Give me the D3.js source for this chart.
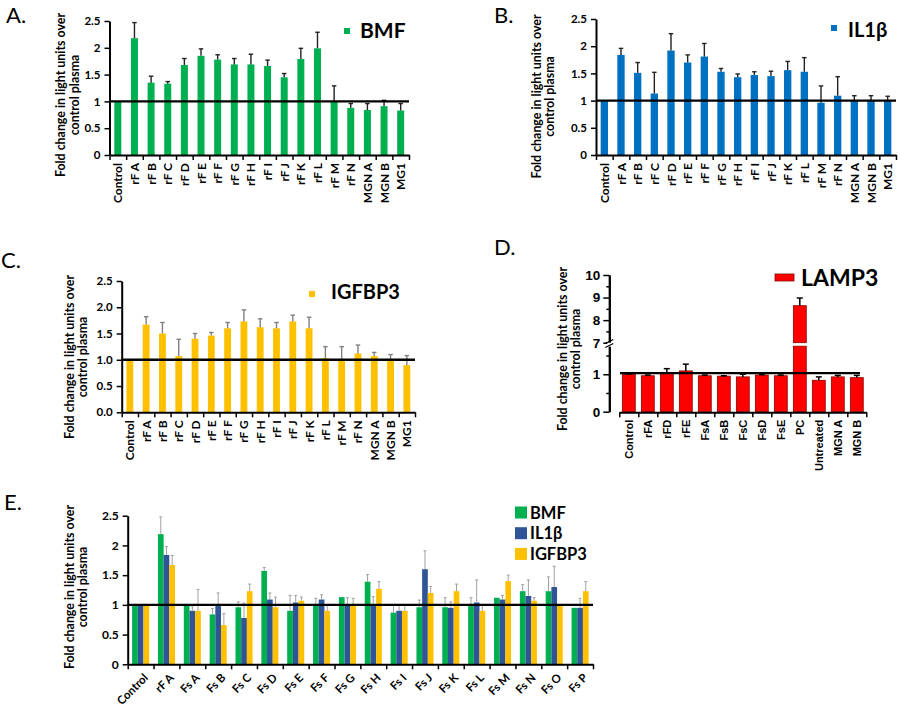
<!DOCTYPE html>
<html><head><meta charset="utf-8">
<script src="https://cdn.jsdelivr.net/npm/d3@7"></script>
<style>body{margin:0;background:#fff}svg{display:block}</style>
</head><body>
<svg id="c" width="900" height="708"></svg>
<script>
// ---------- DATA ----------
const catsABC = ["Control","rF A","rF B","rF C","rF D","rF E","rF F","rF G","rF H","rF I","rF J","rF K","rF L","rF M","rF N","MGN A","MGN B","MG1"];
const yTicksABC = [0, 0.5, 1, 1.5, 2, 2.5];

const bmfValues = [1.00, 2.18, 1.35, 1.33, 1.68, 1.85, 1.78, 1.69, 1.69, 1.66, 1.45, 1.79, 1.99, 1.00, 0.88, 0.84, 0.91, 0.83];
const bmfErrors = [0, 0.29, 0.12, 0.04, 0.12, 0.13, 0.09, 0.11, 0.19, 0.11, 0.07, 0.20, 0.30, 0.29, 0.08, 0.12, 0.11, 0.13];

const il1bValues = [1.00, 1.84, 1.51, 1.13, 1.92, 1.70, 1.81, 1.53, 1.43, 1.47, 1.45, 1.56, 1.53, 0.96, 1.09, 1.00, 1.00, 1.00];
const il1bErrors = [0, 0.12, 0.19, 0.39, 0.31, 0.14, 0.24, 0.06, 0.06, 0.06, 0.09, 0.16, 0.26, 0.31, 0.35, 0.09, 0.09, 0.08];

const igfbp3Values = [1.00, 1.67, 1.50, 1.07, 1.40, 1.46, 1.60, 1.73, 1.62, 1.60, 1.73, 1.60, 1.03, 1.00, 1.12, 1.07, 1.00, 0.90];
const igfbp3Errors = [0, 0.15, 0.21, 0.32, 0.10, 0.06, 0.11, 0.22, 0.16, 0.11, 0.12, 0.21, 0.22, 0.25, 0.16, 0.07, 0.10, 0.18];

const catsD = ["Control","rFA","rFD","rFE","FsA","FsB","FsC","FsD","FsE","PC","Untreated","MGN A","MGN B"];
const lamp3Values = [1.00, 0.96, 1.02, 1.09, 0.96, 0.95, 0.93, 0.98, 0.96, 8.64, 0.84, 0.93, 0.91];
const lamp3Errors = [0.01, 0.02, 0.13, 0.18, 0.02, 0.01, 0.07, 0.01, 0.02, 0.34, 0.09, 0.04, 0.06];
const yTicksDLow = [0, 1];
const yMinorDLow = [0.5, 1.5];
const yTicksDHigh = [7, 8, 9, 10];
const yMinorDHigh = [7.5, 8.5, 9.5];

const catsE = ["Control","rF A","Fs A","Fs B","Fs C","Fs D","Fs E","Fs F","Fs G","Fs H","Fs I","Fs J","Fs K","Fs L","Fs M","Fs N","Fs O","Fs P"];
const seriesE = ["BMF","IL1β","IGFBP3"];
const eBmfValues = [1.00, 2.19, 1.00, 0.84, 0.96, 1.57, 0.90, 1.00, 1.13, 1.39, 0.87, 0.96, 0.96, 1.00, 1.12, 1.23, 1.23, 0.95];
const eBmfErrors = [0, 0.29, 0, 0.10, 0.09, 0.06, 0.26, 0.11, 0, 0.12, 0.13, 0.12, 0.16, 0.12, 0, 0.11, 0.24, 0];
const eIl1bValues = [1.00, 1.84, 0.90, 1.00, 0.78, 1.09, 1.04, 1.09, 1.00, 1.00, 0.90, 1.60, 0.95, 1.04, 1.09, 1.15, 1.30, 0.95];
const eIl1bErrors = [0, 0.14, 0.08, 0.20, 0.25, 0.11, 0.12, 0.08, 0.12, 0.14, 0.10, 0.31, 0.10, 0.38, 0.07, 0.27, 0.35, 0.16];
const eIgfValues = [1.00, 1.67, 0.90, 0.66, 1.23, 0.96, 1.07, 0.90, 1.00, 1.27, 0.90, 1.20, 1.23, 0.90, 1.40, 1.07, 1.00, 1.23];
const eIgfErrors = [0, 0.16, 0.36, 0.19, 0.12, 0.17, 0.06, 0.10, 0.11, 0.12, 0.10, 0.11, 0.12, 0.10, 0.10, 0.05, 0, 0.16];

const yTitle = ["Fold change in light units over", "control plasma"];

// ---------- DRAW ----------
const svg = d3.select("#c");
const F = "Lato, 'Open Sans', sans-serif";
const FA = "'Liberation Sans', Arial, sans-serif";

function styleAxis(g, font, size, tickW) {
  g.select(".domain").attr("stroke", "#000").attr("stroke-width", 2);
  g.selectAll(".tick line").attr("stroke", "#000").attr("stroke-width", tickW || 1.5);
  g.selectAll(".tick text").attr("font-family", font).attr("font-weight", "bold")
    .attr("font-size", size).attr("fill", "#000");
}

function letter(x, y, t) {
  svg.append("text").attr("x", x).attr("y", y).text(t)
    .attr("font-family", F).attr("font-size", 22).attr("fill", "#000");
}

function title(cy, x1, x2) {
  [x1, x2].forEach((xx, i) => {
    svg.append("text").attr("transform", `translate(${xx},${cy}) rotate(-90)`)
      .attr("text-anchor", "middle").attr("dominant-baseline", "central")
      .attr("font-family", F).attr("font-weight", "bold").attr("font-size", 12.4)
      .text(yTitle[i]);
  });
}

function errorBars(g, data, errColor, capW, sw) {
  const eg = g.append("g");
  data.filter(d => d.e > 0).forEach(d => {
    eg.append("line").attr("x1", d.cx).attr("x2", d.cx).attr("y1", d.y1).attr("y2", d.y2)
      .attr("stroke", errColor).attr("stroke-width", sw);
    eg.append("line").attr("x1", d.cx - capW / 2).attr("x2", d.cx + capW / 2).attr("y1", d.y2).attr("y2", d.y2)
      .attr("stroke", errColor).attr("stroke-width", sw);
  });
}

function simplePanel(o) {
  const g = svg.append("g");
  const n = o.cats.length;
  const x = d3.scaleBand().domain(o.cats).range([o.x0, o.x1]).paddingInner(o.pad).paddingOuter(o.pad / 2);
  const y = d3.scaleLinear().domain([0, 2.5]).range([o.y0, o.yTop]);
  const bx = d3.scaleLinear().domain([0, n]).range([o.x0, o.x1]);

  g.selectAll("rect").data(o.vals).join("rect")
    .attr("x", (d, i) => x(o.cats[i])).attr("y", d => y(d))
    .attr("width", x.bandwidth()).attr("height", d => o.y0 - y(d)).attr("fill", o.color);

  errorBars(g, o.vals.map((v, i) => ({ cx: x(o.cats[i]) + x.bandwidth() / 2, y1: y(v), y2: y(v + o.errs[i]), e: o.errs[i] })),
    o.errColor, 4.5, 1.4);

  g.append("g").attr("transform", `translate(${o.x0},0)`)
    .call(d3.axisLeft(y).tickValues(yTicksABC).tickSize(5).tickSizeOuter(0).tickPadding(4).tickFormat(o.fmt))
    .call(a => styleAxis(a, F, 11.5));
  g.append("g").attr("transform", `translate(0,${o.y0})`)
    .call(d3.axisBottom(bx).tickValues(d3.range(n + 1)).tickSize(5).tickSizeOuter(0).tickFormat(""))
    .call(a => styleAxis(a, F, 10));

  g.selectAll("text.cat").data(o.cats).join("text").attr("class", "cat")
    .attr("transform", d => `translate(${x(d) + x.bandwidth() / 2},${o.y0 + 8}) rotate(-90)`)
    .attr("text-anchor", "end").attr("dominant-baseline", "central")
    .attr("font-family", F).attr("font-weight", "bold").attr("font-size", 12).text(d => d);

  g.append("line").attr("x1", o.x0).attr("x2", o.x1).attr("y1", y(1)).attr("y2", y(1))
    .attr("stroke", "#000").attr("stroke-width", 2.4);

  g.append("rect").attr("x", o.lg[0]).attr("y", o.lg[1]).attr("width", 6).attr("height", 6).attr("fill", o.color);
  g.append("text").attr("x", o.lg[2]).attr("y", o.lg[3]).text(o.name)
    .attr("font-family", F).attr("font-weight", "bold").attr("font-size", o.lg[4]);
}

// Panel A
letter(6, 23, "A.");
title(95, 60, 74);
simplePanel({ cats: catsABC, vals: bmfValues, errs: bmfErrors, x0: 109.5, x1: 409, y0: 155, yTop: 21,
  pad: 0.58, color: "#00b050", errColor: "#222", fmt: d3.format("~g"), name: "BMF", lg: [344, 28, 360, 37.5, 21] });

// Panel B
letter(494, 23, "B.");
title(96.5, 536, 549);
simplePanel({ cats: catsABC, vals: il1bValues, errs: il1bErrors, x0: 596, x1: 896, y0: 155, yTop: 19,
  pad: 0.56, color: "#0070c0", errColor: "#222", fmt: d3.format("~g"), name: "IL1β", lg: [831, 25, 848, 37.3, 20] });

// Panel C
letter(1, 268, "C.");
title(357, 69.5, 82.5);
simplePanel({ cats: catsABC, vals: igfbp3Values, errs: igfbp3Errors, x0: 121.7, x1: 415, y0: 412.3, yTop: 281,
  pad: 0.58, color: "#ffc000", errColor: "#808080", fmt: d3.format(".1f"), name: "IGFBP3", lg: [309, 291, 331, 298.5, 20] });

// Panel D
(function () {
  letter(494, 255, "D.");
  title(349, 562, 575);
  const g = svg.append("g");
  const axX = 609.3, y0 = 411.7;
  const yLow = d3.scaleLinear().domain([0, 1.75]).range([y0, 346.2]);
  const yHigh = d3.scaleLinear().domain([7, 10]).range([342.7, 275]);
  const x = d3.scaleBand().domain(catsD).range([619.3, 866.3]).paddingInner(0.32).paddingOuter(0.16);
  const bx = d3.scaleLinear().domain([0, catsD.length]).range([619.3, 866.3]);
  const fmtD = d3.format("d");

  lamp3Values.forEach((v, i) => {
    const bxp = x(catsD[i]);
    if (v <= 1.75) {
      g.append("rect").attr("x", bxp).attr("y", yLow(v)).attr("width", x.bandwidth()).attr("height", y0 - yLow(v))
        .attr("fill", "#ff0000").attr("stroke", "#8b0000").attr("stroke-width", 0.8);
    } else {
      g.append("rect").attr("x", bxp).attr("y", yLow(1.75)).attr("width", x.bandwidth()).attr("height", y0 - yLow(1.75))
        .attr("fill", "#ff0000").attr("stroke", "#8b0000").attr("stroke-width", 0.8);
      g.append("rect").attr("x", bxp).attr("y", yHigh(v)).attr("width", x.bandwidth()).attr("height", yHigh(7) - yHigh(v))
        .attr("fill", "#ff0000").attr("stroke", "#8b0000").attr("stroke-width", 0.8);
    }
  });
  const ys = v => v > 7 ? yHigh(v) : yLow(v);
  errorBars(g, lamp3Values.map((v, i) => ({ cx: x(catsD[i]) + x.bandwidth() / 2, y1: ys(v), y2: ys(v + lamp3Errors[i]), e: lamp3Errors[i] })),
    "#000", 6, 1.5);

  g.append("g").attr("transform", `translate(${axX},0)`)
    .call(d3.axisLeft(yLow).tickValues(yTicksDLow).tickSize(6).tickSizeOuter(0).tickPadding(3).tickFormat(fmtD))
    .call(a => styleAxis(a, FA, 13.5));
  g.append("g").attr("transform", `translate(${axX},0)`)
    .call(d3.axisLeft(yLow).tickValues(yMinorDLow).tickSize(3).tickSizeOuter(0).tickFormat(""))
    .call(a => styleAxis(a, FA, 13));
  g.append("g").attr("transform", `translate(${axX},0)`)
    .call(d3.axisLeft(yHigh).tickValues(yTicksDHigh).tickSize(6).tickSizeOuter(0).tickPadding(3).tickFormat(fmtD))
    .call(a => styleAxis(a, FA, 13.5));
  g.append("g").attr("transform", `translate(${axX},0)`)
    .call(d3.axisLeft(yHigh).tickValues(yMinorDHigh).tickSize(3).tickSizeOuter(0).tickFormat(""))
    .call(a => styleAxis(a, FA, 13));
  // break marks
  g.append("rect").attr("x", axX - 2).attr("y", 342.7).attr("width", 4).attr("height", 3.5).attr("fill", "#fff");
  [341.5, 345.5].forEach(yy => {
    g.append("line").attr("x1", axX - 4).attr("x2", axX + 4).attr("y1", yy + 2).attr("y2", yy - 2)
      .attr("stroke", "#000").attr("stroke-width", 1.3);
  });

  g.append("g").attr("transform", `translate(0,${y0 + 0.5})`)
    .call(d3.axisBottom(bx).tickValues(d3.range(catsD.length + 1)).tickSize(5).tickSizeOuter(0).tickFormat(""))
    .call(a => styleAxis(a, FA, 10));

  g.selectAll("text.cat").data(catsD).join("text").attr("class", "cat")
    .attr("transform", d => `translate(${x(d) + x.bandwidth() / 2},${y0 + 8}) rotate(-90)`)
    .attr("text-anchor", "end").attr("dominant-baseline", "central")
    .attr("font-family", FA).attr("font-weight", "bold").attr("font-size", 11).text(d => d);

  g.append("line").attr("x1", 620).attr("x2", 860).attr("y1", yLow(1.03)).attr("y2", yLow(1.03))
    .attr("stroke", "#000").attr("stroke-width", 2.4);

  g.append("rect").attr("x", 775).attr("y", 274).attr("width", 19).attr("height", 7)
    .attr("fill", "#ff0000").attr("stroke", "#8b0000").attr("stroke-width", 0.8);
  g.append("text").attr("x", 801).attr("y", 286).text("LAMP3")
    .attr("font-family", F).attr("font-weight", "bold").attr("font-size", 23);
})();

// Panel E
(function () {
  letter(4, 510, "E.");
  title(587, 69.5, 82.5);
  const g = svg.append("g");
  const x0 = 127.7, x1 = 593, y0 = 664.3;
  const x = d3.scaleBand().domain(catsE).range([x0, x1]).paddingInner(0.34).paddingOuter(0.17);
  const xs = d3.scaleBand().domain(seriesE).range([0, x.bandwidth()]);
  const y = d3.scaleLinear().domain([0, 2.5]).range([y0, 515.7]);
  const bx = d3.scaleLinear().domain([0, catsE.length]).range([x0, x1]);
  const colors = d3.scaleOrdinal().domain(seriesE).range(["#00b050", "#2f5597", "#ffc000"]);
  const vals = [eBmfValues, eIl1bValues, eIgfValues];
  const errs = [eBmfErrors, eIl1bErrors, eIgfErrors];

  seriesE.forEach((s, si) => {
    g.append("g").selectAll("rect").data(vals[si]).join("rect")
      .attr("x", (d, i) => x(catsE[i]) + xs(s)).attr("y", d => y(d))
      .attr("width", xs.bandwidth()).attr("height", d => y0 - y(d)).attr("fill", colors(s));
  });
  seriesE.forEach((s, si) => {
    errorBars(g, vals[si].map((v, i) => ({ cx: x(catsE[i]) + xs(s) + xs.bandwidth() / 2, y1: y(v), y2: y(v + errs[si][i]), e: errs[si][i] })),
      "#a0a0a0", 3, 1);
  });

  g.append("g").attr("transform", `translate(${x0},0)`)
    .call(d3.axisLeft(y).tickValues(yTicksABC).tickSize(5).tickSizeOuter(0).tickPadding(4).tickFormat(d3.format("~g")))
    .call(a => styleAxis(a, F, 12));
  g.append("g").attr("transform", `translate(0,${y0})`)
    .call(d3.axisBottom(bx).tickValues(d3.range(catsE.length + 1)).tickSize(5).tickSizeOuter(0).tickFormat(""))
    .call(a => styleAxis(a, F, 10));

  g.selectAll("text.cat").data(catsE).join("text").attr("class", "cat")
    .attr("transform", d => `translate(${x(d) + x.bandwidth() / 2 + 5},${y0 + 11}) rotate(-45)`)
    .attr("text-anchor", "end").attr("dominant-baseline", "central")
    .attr("font-family", F).attr("font-weight", "bold").attr("font-size", 11.5).text(d => d);

  g.append("line").attr("x1", x0).attr("x2", x1).attr("y1", y(1)).attr("y2", y(1))
    .attr("stroke", "#000").attr("stroke-width", 2.4);

  const lg = g.append("g");
  seriesE.forEach((s, i) => {
    lg.append("rect").attr("x", 515).attr("y", 506.5 + i * 20.7).attr("width", 12).attr("height", 12).attr("fill", colors(s));
    lg.append("text").attr("x", 530).attr("y", 518.5 + i * 20.7).text(s)
      .attr("font-family", F).attr("font-weight", "bold").attr("font-size", 16.5);
  });
})();
</script>
</body></html>
